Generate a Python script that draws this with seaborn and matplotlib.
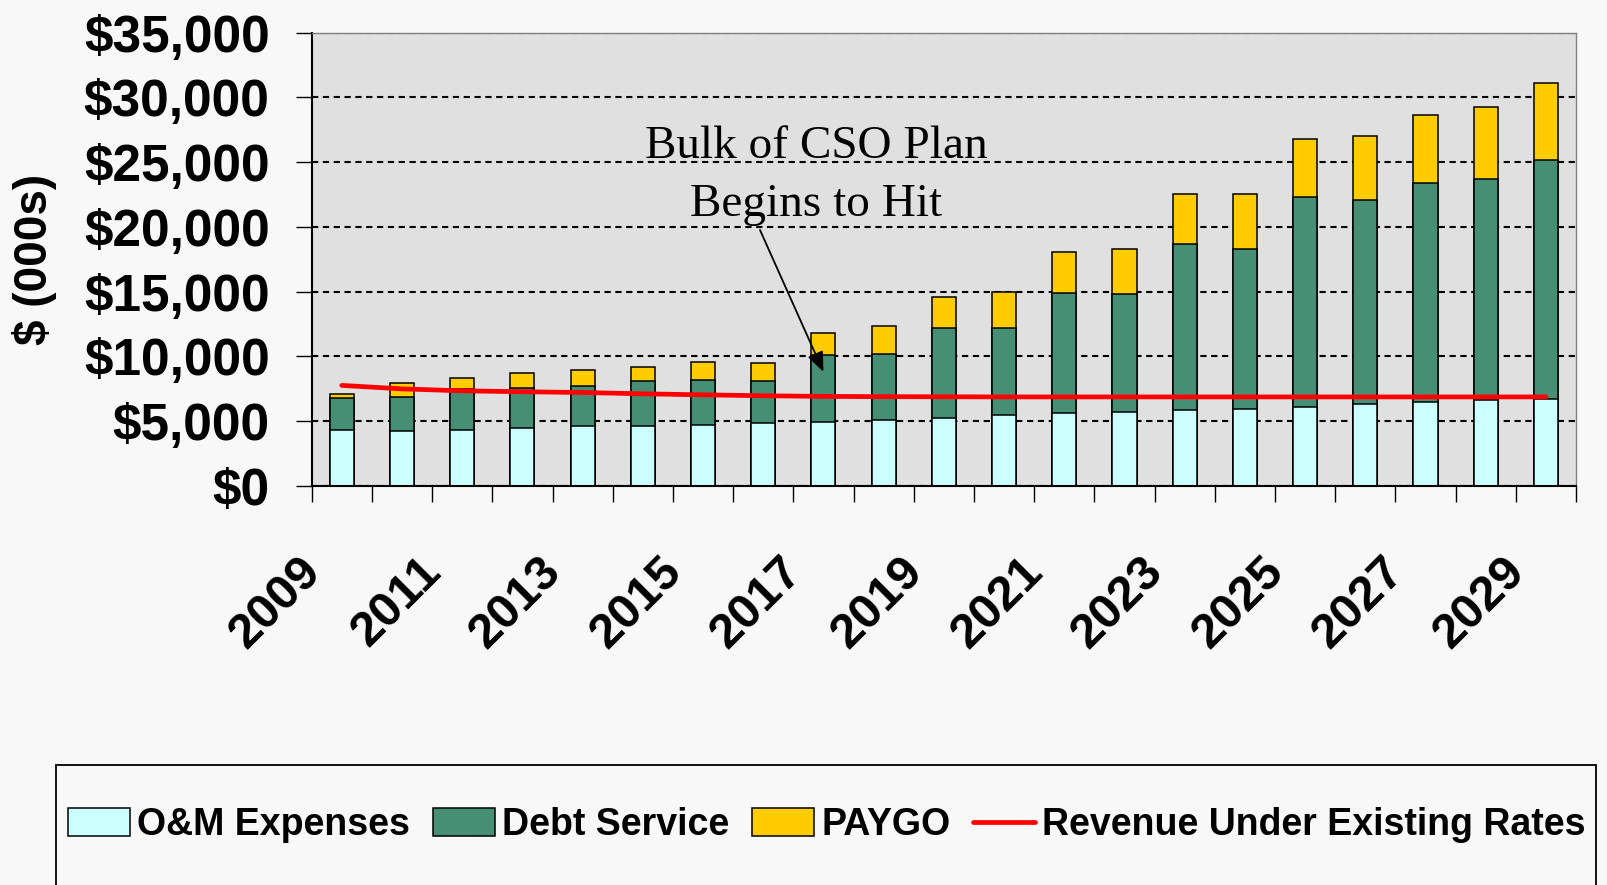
import numpy as np
import pandas as pd
import matplotlib
matplotlib.use("Agg")
import matplotlib.pyplot as plt
import seaborn as sns
from matplotlib.patches import Rectangle
from matplotlib.transforms import ScaledTranslation

# values in $000s
years = [str(y) for y in range(2009, 2030)]
om_expenses = [4330, 4200, 4330, 4460, 4590, 4590, 4710, 4850, 4950, 5080, 5210,
               5460, 5600, 5700, 5830, 5950, 6080, 6340, 6470, 6600, 6700]
debt_service = [2470, 2630, 3140, 3110, 3110, 3500, 3460, 3240, 5130, 5100, 7000,
                6750, 9320, 9110, 12850, 12340, 16250, 15740, 16950, 17100, 18490]
paygo = [290, 1130, 850, 1120, 1240, 1110, 1410, 1370, 1740, 2160, 2370,
         2740, 3140, 3480, 3890, 4280, 4460, 4940, 5230, 5570, 5950]
revenue = [7750, 7480, 7330, 7260, 7200, 7100, 7020, 6950, 6900, 6880, 6870,
           6860, 6860, 6860, 6860, 6860, 6860, 6860, 6860, 6860, 6860]
y_ticks = list(range(0, 35001, 5000))

df = pd.DataFrame({"year": years, "om": om_expenses, "debt": debt_service,
                   "paygo": paygo, "revenue": revenue})
df["debt_top"] = df["om"] + df["debt"]
df["total"] = df["debt_top"] + df["paygo"]

sns.set_theme(style="white")
plt.rcParams.update({
    "font.family": ["Liberation Sans", "DejaVu Sans"],
    "font.weight": "bold",
    "text.color": "black",
    "axes.labelcolor": "black",
    "xtick.color": "black",
    "ytick.color": "black",
})

fig = plt.figure(figsize=(16.07, 8.85), dpi=100, facecolor="#f8f8f8")
ax = fig.add_axes([0.19396, 0.45119, 0.78675, 0.51186])
ax.set_facecolor("#e0e0e0")
ax.set_axisbelow(True)

bar_kw = dict(width=0.4, edgecolor="black", linewidth=1.1, saturation=1, ax=ax)
sns.barplot(data=df, x="year", y="total", color="#ffcc00", label="PAYGO", **bar_kw)
sns.barplot(data=df, x="year", y="debt_top", color="#478f74", label="Debt Service", **bar_kw)
sns.barplot(data=df, x="year", y="om", color="#ccffff", label="O&M Expenses", **bar_kw)
sns.lineplot(x=np.arange(len(years)), y=df["revenue"], color="#ff0000", linewidth=3.4,
             label="Revenue Under Existing Rates", ax=ax)
if ax.get_legend() is not None:
    ax.get_legend().remove()

ax.set_xlim(-0.5, len(years) - 0.5)
ax.set_ylim(0, 35000)
ax.set_yticks(y_ticks)
ax.set_yticklabels([f"${v:,.0f}" for v in y_ticks], fontsize=37, fontweight="bold")
ax.yaxis.grid(True, color="black", linestyle=(0, (3.0, 2.2)), linewidth=1.5)
ax.xaxis.grid(False)

major = np.arange(0, len(years), 2)
ax.set_xticks(major)
ax.set_xticklabels(years[::2], rotation=45, ha="right", va="baseline",
                   rotation_mode="anchor", fontsize=35, fontweight="bold")
ax.set_xticks(np.arange(-0.5, len(years), 1), minor=True)
ax.tick_params(axis="x", which="major", length=0, pad=63.5)
ax.tick_params(axis="x", which="minor", length=11.5, width=1, color="black",
               direction="out", bottom=True)
ax.tick_params(axis="y", which="major", length=11.5, width=1, color="black",
               direction="out", left=True, pad=18.7)
offset = ScaledTranslation(-19.5 / 100, 0, fig.dpi_scale_trans)
for lbl in ax.get_xticklabels():
    lbl.set_transform(lbl.get_transform() + offset)

ax.set_xlabel("")
ax.set_ylabel("$ (000s)", fontsize=33, fontweight="bold")
ax.yaxis.label.set_va("center")
ax.yaxis.set_label_coords(-0.2189, 0.5)

for side in ["left", "bottom"]:
    ax.spines[side].set_color("black")
    ax.spines[side].set_linewidth(1.5)
for side in ["top", "right"]:
    ax.spines[side].set_color("#808080")
    ax.spines[side].set_linewidth(1.0)

# annotation
serif = ["Liberation Serif", "DejaVu Serif"]
fig.text(816 / 1607, 1 - 158 / 885, "Bulk of CSO Plan", ha="center", va="baseline",
         fontsize=34, family=serif, fontweight="normal", color="black")
fig.text(816 / 1607, 1 - 216 / 885, "Begins to Hit", ha="center", va="baseline",
         fontsize=34, family=serif, fontweight="normal", color="black")
ax.annotate("", xy=(8, 8800), xycoords="data", xytext=(760, 885 - 230),
            textcoords="figure pixels",
            arrowprops=dict(arrowstyle="-|>,head_length=0.6,head_width=0.25",
                            mutation_scale=20, color="black", lw=1.3,
                            shrinkA=0, shrinkB=0))

# legend box and legend
fig.patches.append(Rectangle((56 / 1607, -0.1), (1596 - 56) / 1607, (885 - 765) / 885 + 0.1,
                             transform=fig.transFigure, fill=False, edgecolor="black",
                             linewidth=1.3, zorder=0))
handles, labels = ax.get_legend_handles_labels()
order = ["O&M Expenses", "Debt Service", "PAYGO", "Revenue Under Existing Rates"]
hmap = dict(zip(labels, handles))
fig.legend([hmap[k] for k in order], order, loc="center",
           bbox_to_anchor=(827 / 1607, 1 - 825 / 885), ncol=4, frameon=False,
           prop=dict(size=27, weight="bold"), handlelength=1.65, handleheight=0.75,
           handletextpad=0.2, columnspacing=0.6)

fig.savefig("out.png", dpi=100, facecolor=fig.get_facecolor())
